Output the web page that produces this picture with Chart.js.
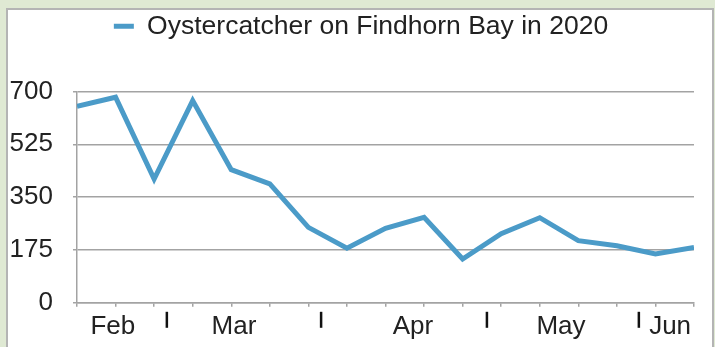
<!DOCTYPE html>
<html>
<head>
<meta charset="utf-8">
<script src="https://cdn.jsdelivr.net/npm/chart.js@4.4.0/dist/chart.umd.min.js"></script>
<style>
  html, body { margin: 0; padding: 0; }
  body { width: 715px; height: 347px; background: #dfe9d3; position: relative; overflow: hidden; }
  #frame { position: absolute; left: 6px; top: 8px; width: 704px; height: 360px; background: #fff; border: 2px solid #b4b4b4; }
  #chart { position: absolute; left: 0; top: 0; }
</style>
</head>
<body>
<div id="frame"></div>
<canvas id="chart" width="715" height="347"></canvas>
<script>
  // weekly counts
  var weeks = [0, 1, 2, 3, 4, 5, 6, 7, 8, 9, 10, 11, 12, 13, 14, 15, 16];
  var counts = [651, 681, 410, 670, 441, 394, 250, 181, 247, 283, 145, 229, 282, 206, 189, 162, 183];

  // month labels and month boundaries, in week units along the x axis
  var monthNames = ["Feb", "Mar", "Apr", "May", "Jun"];
  var monthLabelAt = [0.93, 4.07, 8.71, 12.55, 15.38];
  var monthBreaks = [2.33, 6.33, 10.63, 14.57];

  var yTicks = [0, 175, 350, 525, 700];

  var gray = "#a3a3a3";
  var ink = "#222222";
  var blue = "#4b9bc8";

  // Month Break Ticks - Start
  // --------------------------------------------------
  var monthBreakTicks = {
    id: 'monthBreakTicks',
    afterDraw: function(chart) {
      var ctx = chart.ctx;
      var xs = chart.scales.x;
      var bottom = chart.chartArea.bottom;
      ctx.save();
      ctx.strokeStyle = "#111";
      ctx.lineWidth = 2.5;
      monthBreaks.forEach(function(v) {
        var px = xs.getPixelForValue(v);
        ctx.beginPath();
        ctx.moveTo(px, bottom + 9);
        ctx.lineTo(px, bottom + 25);
        ctx.stroke();
      });
      ctx.restore();
    }
  };
  // Month Break Ticks - End
  // --------------------------------------------------

  // Legend Gap - Start
  // --------------------------------------------------
  var legendGap = {
    id: 'legendGap',
    beforeInit: function(chart) {
      var fit = chart.legend.fit;
      chart.legend.fit = function() {
        fit.bind(chart.legend)();
        this.height += 42;
      };
    },
    afterLayout: function(chart) {
      chart.legend.left += 9;
      chart.legend.right += 9;
    }
  };
  // Legend Gap - End
  // --------------------------------------------------

  var ctx = document.getElementById('chart').getContext('2d');
  var chart = new Chart(ctx, {
    type: 'line',
    data: {
      datasets: [
      {
        label: "Oystercatcher on Findhorn Bay in 2020",
        data: weeks.map(function(w, i) { return {x: w, y: counts[i]}; }),
        borderColor: blue,
        backgroundColor: blue,
        borderWidth: 5,
        pointRadius: 0,
        tension: 0,
        fill: false,
        pointStyle: 'line'
      }
      ]
    },
    options: {
      responsive: false,
      animation: false,
      layout: { padding: { top: 3, left: 10, right: 21, bottom: 1 } },
      plugins: {
        tooltip: { enabled: false },
        legend: {
          position: 'top',
          labels: {
            usePointStyle: true,
            pointStyleWidth: 20,
            boxHeight: 4,
            padding: 10,
            color: ink,
            font: { family: "'Liberation Sans', Arial, sans-serif", size: 26.5 }
          }
        }
      },
      scales: {
        x: {
          type: 'linear',
          position: 'bottom',
          min: weeks[0],
          max: weeks[weeks.length - 1],
          ticks: { display: false, stepSize: 1 },
          grid: { drawOnChartArea: false, tickLength: 4, color: gray, lineWidth: 1.5 },
          border: { color: gray, width: 1.5 }
        },
        months: {
          type: 'linear',
          position: 'bottom',
          axis: 'x',
          min: weeks[0],
          max: weeks[weeks.length - 1],
          afterBuildTicks: function(scale) {
            scale.ticks = monthLabelAt.map(function(v) { return {value: v}; });
          },
          ticks: {
            autoSkip: false,
            maxRotation: 0,
            padding: 4,
            color: ink,
            font: { family: "'Liberation Sans', Arial, sans-serif", size: 26 },
            callback: function(value, index) { return monthNames[index]; }
          },
          grid: { display: false, drawTicks: false },
          border: { display: false }
        },
        y: {
          min: yTicks[0],
          max: yTicks[yTicks.length - 1],
          afterBuildTicks: function(scale) {
            scale.ticks = yTicks.map(function(v) { return {value: v}; });
          },
          afterFit: function(scale) {
            scale.width = 67;
          },
          ticks: {
            padding: 20,
            color: ink,
            font: { family: "'Liberation Sans', Arial, sans-serif", size: 26 }
          },
          grid: { color: gray, lineWidth: 1.5, tickLength: 4 },
          border: { color: gray, width: 1.5 }
        }
      }
    },
    plugins: [monthBreakTicks, legendGap]
  });
</script>
</body>
</html>
